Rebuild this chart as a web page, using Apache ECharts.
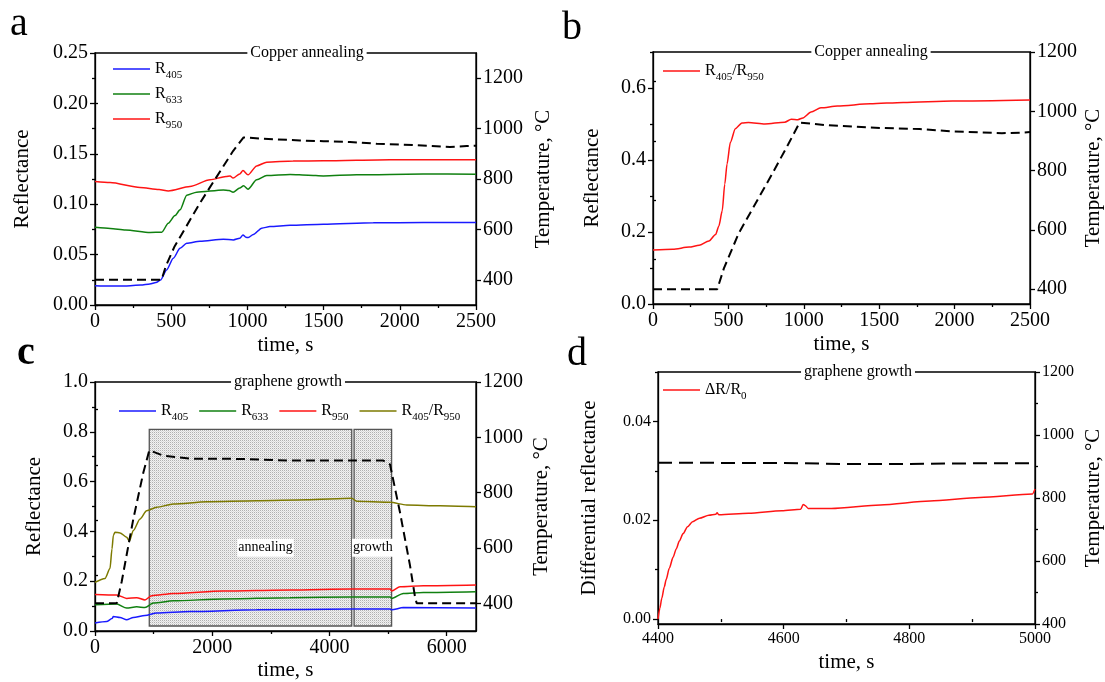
<!DOCTYPE html>
<html>
<head>
<meta charset="utf-8">
<script src="https://cdn.jsdelivr.net/npm/echarts@6/dist/echarts.min.js"></script>
<style>
  html, body { margin: 0; padding: 0; background: #fff; }
  #chart { width: 1105px; height: 682px; }
</style>
</head>
<body>
<div id="chart"></div>
<script>
// ---- panel a: copper annealing, single wavelengths ----
const r405A = [[0,0.0192],[100,0.0188],[200,0.0189],[300,0.0198],[360,0.0209],[400,0.0222],[430,0.0248],[470,0.0348],[514,0.0464],[558,0.0563],[602,0.0613],[689,0.0632],[842,0.0652],[908,0.0646],[950,0.0662],[971,0.0695],[990,0.0672],[1006,0.0669],[1039,0.0700],[1094,0.0762],[1148,0.0778],[1280,0.0791],[1498,0.0801],[1826,0.0815],[2154,0.0818],[2500,0.0818]]
const r633A = [[0,0.0771],[100,0.0760],[200,0.0745],[361,0.0719],[438,0.0722],[481,0.0811],[525,0.0887],[558,0.0944],[602,0.1090],[667,0.1119],[842,0.1142],[880,0.1135],[906,0.1118],[950,0.1160],[975,0.1182],[1004,0.1149],[1061,0.1242],[1127,0.1285],[1280,0.1295],[1400,0.1288],[1498,0.1281],[1717,0.1291],[2154,0.1300],[2500,0.1298]]
const r950A = [[0,0.1225],[99,0.1215],[295,0.1166],[420,0.1145],[481,0.1132],[623,0.1175],[755,0.1242],[860,0.1275],[886,0.1281],[906,0.1260],[950,0.1300],[971,0.1334],[1004,0.1291],[1061,0.1380],[1127,0.1417],[1300,0.1428],[1498,0.1430],[1936,0.1440],[2500,0.1440]]
const tempA = [[0,400],[437,400],[465,455],[520,530],[689,705],[907,912],[975,965],[1100,960],[1345,953],[1500,950],[1673,947],[1848,940],[2111,934],[2329,927],[2439,931],[2500,932]]

// ---- panel b: ratio during copper annealing ----
const ratioB = [[0,0.150],[131,0.152],[240,0.158],[306,0.163],[371,0.175],[415,0.193],[437,0.217],[459,0.259],[476,0.333],[491,0.389],[513,0.449],[546,0.487],[590,0.503],[633,0.504],[742,0.500],[873,0.505],[917,0.513],[961,0.512],[994,0.517],[1048,0.533],[1114,0.545],[1223,0.550],[1441,0.556],[1659,0.560],[1987,0.564],[2500,0.567]]
const tempB = [[0,400],[426,400],[470,470],[568,588],[786,785],[895,887],[972,962],[1135,954],[1441,945],[1769,940],[1987,932],[2314,926],[2440,928],[2500,930]]

// ---- panel c: graphene growth ----
const r405C = [[0,0.032],[199,0.038],[290,0.050],[313,0.058],[427,0.054],[540,0.045],[654,0.054],[853,0.062],[1052,0.072],[1621,0.078],[2758,0.085],[4379,0.088],[5033,0.088],[5061,0.085],[5260,0.094],[6500,0.092]]
const r633C = [[0,0.105],[370,0.108],[540,0.092],[711,0.097],[853,0.094],[995,0.112],[1336,0.121],[2189,0.129],[3327,0.134],[4379,0.137],[5033,0.137],[5061,0.131],[5260,0.151],[5601,0.155],[6500,0.158]]
const r950C = [[0,0.147],[370,0.145],[540,0.131],[711,0.134],[853,0.125],[967,0.142],[1336,0.151],[2189,0.161],[3327,0.165],[4379,0.169],[5033,0.169],[5061,0.161],[5203,0.178],[5601,0.182],[6500,0.185]]
const ratioC = [[0,0.195],[171,0.211],[256,0.251],[290,0.330],[313,0.384],[341,0.397],[427,0.394],[540,0.377],[586,0.361],[654,0.404],[768,0.450],[881,0.483],[1052,0.497],[1336,0.510],[1905,0.519],[2758,0.523],[3612,0.527],[4379,0.533],[4465,0.521],[5033,0.517],[5317,0.506],[5886,0.503],[6500,0.499]]
const tempC = [[0,400],[370,400],[398,406],[455,478],[654,705],[824,872],[926,953],[1166,934],[1621,923],[2474,922],[3327,916],[4919,916],[5033,902],[5203,729],[5374,537],[5459,424],[5488,400],[6500,400]]
const stageNames = ['annealing', 'growth']
const stageStart = [926, 4420]
const stageEnd = [4380, 5060]
const stageLow = [0.02, 0.02]
const stageHigh = [0.81, 0.81]

// ---- panel d: differential reflectance during growth ----
const dRd = [[4400,0],[4403,0.0022],[4406,0.0042],[4410,0.0065],[4413,0.0080],[4418,0.0103],[4424,0.0125],[4429,0.0142],[4434,0.0158],[4440,0.0173],[4447,0.0187],[4455,0.0197],[4466,0.0204],[4481,0.0210],[4492,0.0212],[4494,0.0215],[4497,0.0211],[4544,0.0214],[4597,0.0219],[4627,0.0222],[4631,0.0232],[4634,0.0230],[4639,0.0224],[4676,0.0224],[4754,0.0231],[4833,0.0239],[4912,0.0246],[4996,0.0253],[5000,0.0263]]
const tempD = [[4400,912],[4600,911],[4700,908],[4800,908],[4900,910],[5000,910]]

// tick values
const xTicksAB = [0,500,1000,1500,2000,2500]
const xMinorAB = [250,750,1250,1750,2250]
const xTicksC = [0,2000,4000,6000]
const xMinorC = [1000,3000,5000]
const xTicksD = [4400,4600,4800,5000]
const xMinorD = [4500,4700,4900]
const yTicksA = [0,0.05,0.10,0.15,0.20,0.25]
const yMinorA = [0.025,0.075,0.125,0.175,0.225]
const yTicksB = [0,0.2,0.4,0.6]
const yMinorB = [0.1,0.3,0.5,0.7]
const yTicksC = [0,0.2,0.4,0.6,0.8,1.0]
const yMinorC = [0.1,0.3,0.5,0.7,0.9]
const yTicksD = [0,0.02,0.04]
const yMinorD = [0.01,0.03,0.05]
const tTicks = [400,600,800,1000,1200]
const tMinor = [300,500,700,900,1100]

const FONT = 'Liberation Serif'
const BLUE = '#1a1aff', GREEN = '#108010', RED = '#ff1414', OLIVE = '#7d7a00'

function axisPair (gridIndex, position, min, max, major, minor, digits, fontSize, name, nameGap) {
  const base = { type: 'value', gridIndex, position, min, max, splitLine: { show: false } }
  const main = Object.assign({}, base, {
    axisLine: { onZero: false, lineStyle: { color: '#000', width: 1.3 } },
    axisTick: { customValues: major, length: 5, lineStyle: { color: '#000', width: 1.3 } },
    axisLabel: {
      customValues: major, color: '#000', fontFamily: FONT, fontSize, margin: 7,
      formatter: v => Number(v).toFixed(digits)
    },
    name,
    nameLocation: 'middle',
    nameGap,
    nameTextStyle: { fontFamily: FONT, fontSize: 21, color: '#000' }
  })
  if (position === 'left' || position === 'right') main.nameRotate = 90
  const sub = Object.assign({}, base, {
    axisLine: { show: false },
    axisLabel: { show: false },
    axisTick: { customValues: minor, length: 3, lineStyle: { color: '#000', width: 1.3 } }
  })
  return [main, sub]
}

const xAxes = [].concat(
  axisPair(0, 'bottom', 0, 2500, xTicksAB, xMinorAB, 0, 20, 'time, s', 30),
  axisPair(1, 'bottom', 0, 2500, xTicksAB, xMinorAB, 0, 20, 'time, s', 30),
  axisPair(2, 'bottom', 0, 6500, xTicksC, xMinorC, 0, 20, 'time, s', 29),
  axisPair(3, 'bottom', 4400, 5000, xTicksD, xMinorD, 0, 16, 'time, s', 28)
)
const yAxes = [].concat(
  axisPair(0, 'left', 0, 0.25, yTicksA, yMinorA, 2, 20, 'Reflectance', 62),
  axisPair(0, 'right', 300, 1300, tTicks, tMinor, 0, 20, 'Temperature, °C', 57),
  axisPair(1, 'left', 0, 0.7, yTicksB, yMinorB, 1, 20, 'Reflectance', 50),
  axisPair(1, 'right', 350, 1200, tTicks, tMinor, 0, 20, 'Temperature, °C', 53),
  axisPair(2, 'left', 0, 1.0, yTicksC, yMinorC, 1, 20, 'Reflectance', 50),
  axisPair(2, 'right', 300, 1200, tTicks, tMinor, 0, 20, 'Temperature, °C', 55),
  axisPair(3, 'left', -0.001, 0.05, yTicksD, yMinorD, 2, 16, 'Differential reflectance', 58),
  axisPair(3, 'right', 400, 1200, tTicks, tMinor, 0, 16, 'Temperature, °C', 48)
)

function line (name, data, color, xi, yi, extra) {
  return Object.assign({
    name, type: 'line', data, xAxisIndex: xi, yAxisIndex: yi,
    symbol: 'none', smooth: 0.25, smoothMonotone: 'x', z: 3,
    lineStyle: { color, width: 1.5 }, itemStyle: { color }
  }, extra || {})
}
function temp (name, data, xi, yi, dash) {
  return {
    name, type: 'line', data, xAxisIndex: xi, yAxisIndex: yi, symbol: 'none', z: 4,
    lineStyle: { color: '#000', width: 2, type: dash }, itemStyle: { color: '#000' }
  }
}

// dotted fill used for the stage boxes
const dots = document.createElement('canvas')
dots.width = 2; dots.height = 2
const dctx = dots.getContext('2d')
dctx.fillStyle = '#f2f2f2'; dctx.fillRect(0, 0, 2, 2)
dctx.fillStyle = '#b0b0b0'; dctx.fillRect(0, 0, 1, 1)
dctx.fillStyle = '#dadada'; dctx.fillRect(1, 1, 1, 1)

const stageLabelShift = [[15, 20], [0, 20]]
const stages = {
  type: 'custom', xAxisIndex: 4, yAxisIndex: 8, z: 1, silent: true,
  data: stageNames.map((n, i) => [stageStart[i], stageEnd[i], stageLow[i], stageHigh[i]]),
  renderItem (params, api) {
    const p0 = api.coord([api.value(0), api.value(3)])
    const p1 = api.coord([api.value(1), api.value(2)])
    const sh = stageLabelShift[params.dataIndex]
    return {
      type: 'group',
      children: [
        { type: 'rect', shape: { x: p0[0], y: p0[1], width: p1[0] - p0[0], height: p1[1] - p0[1] },
          style: { fill: { image: dots, repeat: 'repeat' }, stroke: '#555', lineWidth: 1.3 } },
        { type: 'text', x: (p0[0] + p1[0]) / 2 + sh[0], y: (p0[1] + p1[1]) / 2 + sh[1], z2: 10,
          style: { text: stageNames[params.dataIndex], fontFamily: FONT, fontSize: 14, fill: '#000',
            align: 'center', verticalAlign: 'middle', backgroundColor: '#fff', padding: [2, 1] } }
      ]
    }
  }
}

function subText (t) {
  return t.split(/(\d+)/).filter(Boolean)
    .map(p => /^\d+$/.test(p) ? '{s|' + p + '}' : '{r|' + p + '}').join('')
}
function legend (names, left, top, orient, gap) {
  return {
    data: names, left, top, orient, itemGap: gap, itemWidth: 37, itemHeight: 1.5,
    icon: 'rect', selectedMode: false, padding: 0,
    formatter: n => subText(n.split(':')[1]),
    textStyle: {
      color: '#000', fontFamily: FONT,
      rich: {
        r: { fontFamily: FONT, fontSize: 16, lineHeight: 20, color: '#000' },
        s: { fontFamily: FONT, fontSize: 11, lineHeight: 24, verticalAlign: 'bottom', color: '#000' }
      }
    }
  }
}

function label (text, x, y, size, bold) {
  return { type: 'text', x, y, z: 100,
    style: { text, fontFamily: FONT, fontSize: size, fontWeight: bold ? 'bold' : 'normal',
      fill: '#000', verticalAlign: 'middle' } }
}
function strip (text, cx, y) {
  return { type: 'text', x: cx, y, z: 100,
    style: { text, fontFamily: FONT, fontSize: 16, fill: '#000', align: 'center',
      verticalAlign: 'middle', backgroundColor: '#fff', padding: [1, 3] } }
}

const gridBox = { show: true, borderColor: '#000', borderWidth: 1.3 }
const option = {
  animation: false,
  backgroundColor: '#fff',
  grid: [
    Object.assign({ left: 95, top: 53, width: 381, height: 252 }, gridBox),
    Object.assign({ left: 653, top: 52, width: 382, height: 252 }, gridBox),
    Object.assign({ left: 95, top: 382, width: 381, height: 251 }, gridBox),
    Object.assign({ left: 658, top: 372, width: 381, height: 252 }, gridBox)
  ],
  xAxis: xAxes,
  yAxis: yAxes,
  legend: [
    legend(['a:R405', 'a:R633', 'a:R950'], 113, 61, 'vertical', 5),
    legend(['b:R405/R950'], 663, 63, 'horizontal', 10),
    legend(['c:R405', 'c:R633', 'c:R950', 'c:R405/R950'], 119, 403, 'horizontal', 11),
    legend(['d:ΔR/R0'], 663, 382, 'horizontal', 10)
  ],
  graphic: [
    label('a', 10, 24, 40),
    label('b', 562, 28, 40),
    label('c', 17, 354, 40, true),
    label('d', 567, 354, 40),
    strip('Copper annealing', 307, 53),
    strip('Copper annealing', 871, 52),
    strip('graphene growth', 288, 382),
    strip('graphene growth', 858, 372)
  ],
  series: [
    line('a:R405', r405A, BLUE, 0, 0),
    line('a:R633', r633A, GREEN, 0, 0),
    line('a:R950', r950A, RED, 0, 0),
    temp('a:T', tempA, 0, 2, [9, 5]),
    line('b:R405/R950', ratioB, RED, 2, 4),
    temp('b:T', tempB, 2, 6, [9, 5]),
    stages,
    line('c:R405', r405C, BLUE, 4, 8),
    line('c:R633', r633C, GREEN, 4, 8),
    line('c:R950', r950C, RED, 4, 8),
    line('c:R405/R950', ratioC, OLIVE, 4, 8),
    temp('c:T', tempC, 4, 10, [9, 5]),
    line('d:ΔR/R0', dRd, RED, 6, 12),
    temp('d:T', tempD, 6, 14, [14, 7])
  ]
}

const chart = echarts.init(document.getElementById('chart'))
chart.setOption(option)
</script>
</body>
</html>
